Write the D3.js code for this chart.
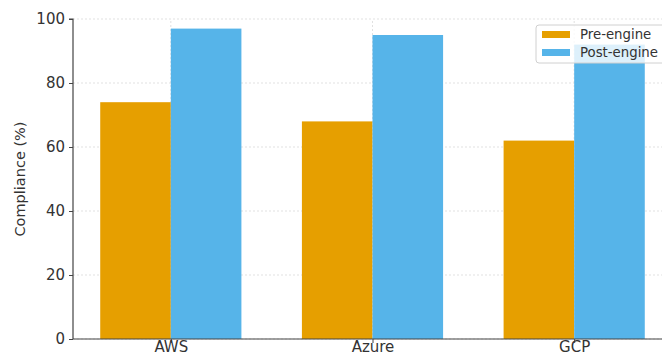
<!DOCTYPE html>
<html>
<head>
<meta charset="utf-8">
<script src="https://cdn.jsdelivr.net/npm/d3@7"></script>
<style>
  html, body { margin: 0; padding: 0; background: #fff; }
  svg { display: block; font-family: "DejaVu Sans", sans-serif; }
</style>
</head>
<body>
<svg id="chart" width="662" height="356"></svg>
<script>
const categories = ["AWS", "Azure", "GCP"];
const seriesNames = ["Pre-engine", "Post-engine"];
const preEngine = [74, 68, 62];
const postEngine = [97, 95, 92];
const yTicks = [0, 20, 40, 60, 80, 100];
const colors = ["#E69F00", "#56B4E9"];

const svg = d3.select("#chart");
const W = 662, H = 356;
const barW = 0.35;

const x = d3.scaleLinear().domain([-0.485, 2.485]).range([73, 672]);
const y = d3.scaleLinear().domain([0, 100]).range([339, 19]);

// grid
const grid = svg.append("g");
grid.selectAll("line.h").data(yTicks).enter().append("line")
  .attr("x1", x(-0.485)).attr("x2", x(2.485))
  .attr("y1", d => y(d)).attr("y2", d => y(d))
  .attr("stroke", "#d9d9d9").attr("stroke-width", 0.8).attr("stroke-dasharray", "2,2");
grid.selectAll("line.v").data(categories.map((c, i) => i)).enter().append("line")
  .attr("x1", d => x(d)).attr("x2", d => x(d))
  .attr("y1", y(0)).attr("y2", y(100))
  .attr("stroke", "#d9d9d9").attr("stroke-width", 0.8).attr("stroke-dasharray", "2,2");

// bars
const series = [preEngine, postEngine];
series.forEach((vals, s) => {
  svg.append("g").selectAll("rect").data(vals).enter().append("rect")
    .attr("x", (d, i) => x(i + (s === 0 ? -barW : 0)))
    .attr("width", x(barW) - x(0))
    .attr("y", d => y(d))
    .attr("height", d => y(0) - y(d))
    .attr("fill", colors[s]);
});

// axes
const yAxis = svg.append("g").attr("transform", `translate(${x(-0.485)},0)`)
  .call(d3.axisLeft(y).tickValues(yTicks).tickSize(4).tickPadding(4));
const xAxis = svg.append("g").attr("transform", `translate(0,${y(0)})`)
  .call(d3.axisBottom(x).tickValues([0, 1, 2]).tickFormat(i => categories[i]).tickSize(4).tickPadding(0));
[yAxis, xAxis].forEach(a => {
  a.selectAll(".domain").attr("stroke", "#444").attr("stroke-width", 1.2);
  a.selectAll(".tick line").attr("stroke", "#444").attr("stroke-width", 1);
  a.selectAll(".tick text").attr("fill", "#333").style("font-size", "15px")
    .style("font-family", "DejaVu Sans, sans-serif");
});
xAxis.selectAll(".tick text").attr("dy", "0.62em");
yAxis.select(".domain").attr("d", `M-4,${y(100)}H0V${y(0)}`);
xAxis.select(".domain").attr("d", `M${x(-0.485)},0H${W}`);

// y label
svg.append("text")
  .attr("transform", `translate(25,${(y(0) + y(100)) / 2}) rotate(-90)`)
  .attr("text-anchor", "middle")
  .attr("fill", "#333")
  .style("font-size", "14.5px")
  .text("Compliance (%)");

// legend
const lg = svg.append("g").attr("transform", "translate(536,25)");
lg.append("rect").attr("x", 0).attr("y", 0).attr("width", 140).attr("height", 38)
  .attr("rx", 3).attr("fill", "#fff").attr("fill-opacity", 0.8)
  .attr("stroke", "#d0d0d0").attr("stroke-width", 1);
seriesNames.forEach((n, i) => {
  lg.append("rect").attr("x", 6).attr("y", 6 + i * 18).attr("width", 28).attr("height", 7)
    .attr("fill", colors[i]);
  lg.append("text").attr("x", 44).attr("y", 14 + i * 18)
    .attr("fill", "#333").style("font-size", "13.3px").text(n);
});
</script>
</body>
</html>
